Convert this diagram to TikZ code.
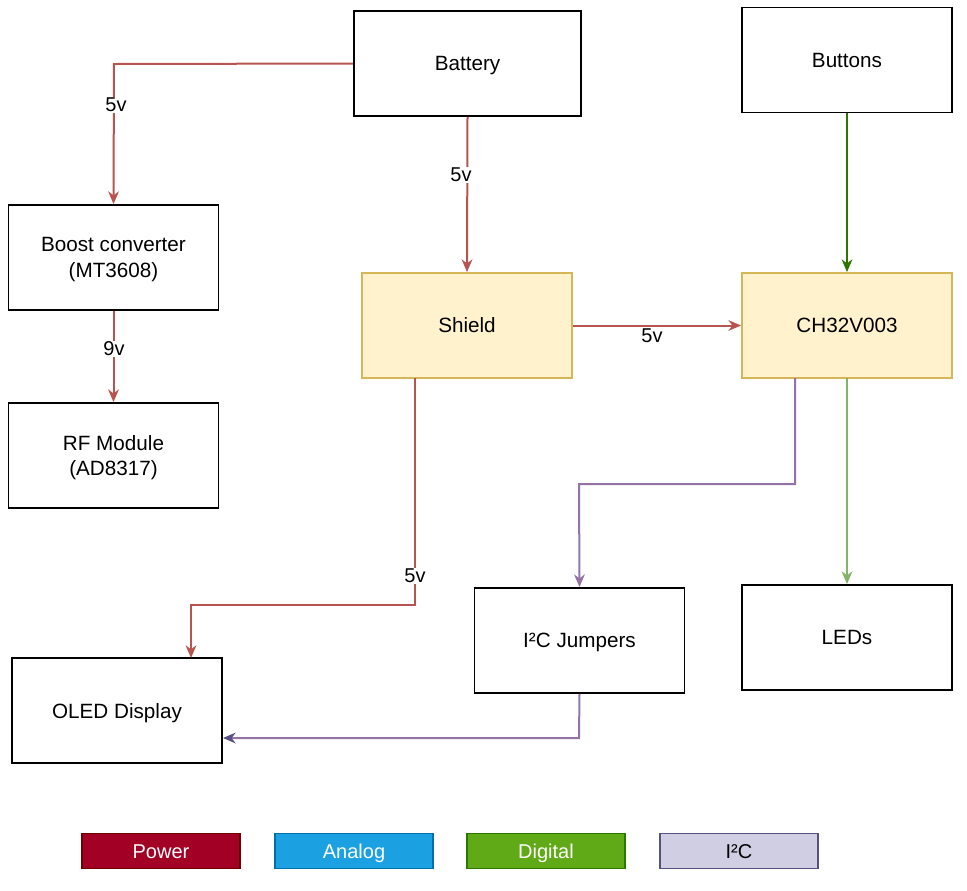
\documentclass[tikz,border=0pt]{standalone}
\usepackage{fontspec}
\setmainfont{Liberation Sans}
\usetikzlibrary{arrows.meta}
\definecolor{pw}{HTML}{B85450}
\definecolor{dg}{HTML}{2D7600}
\definecolor{lg}{HTML}{82B366}
\definecolor{pu}{HTML}{9673A6}
\definecolor{dpu}{HTML}{56517E}
\definecolor{yf}{HTML}{FFF2CC}
\definecolor{ys}{HTML}{D6B656}
\definecolor{powf}{HTML}{A20025}
\definecolor{pows}{HTML}{6F0000}
\definecolor{anf}{HTML}{1BA1E2}
\definecolor{ans}{HTML}{006EAF}
\definecolor{dif}{HTML}{60A917}
\definecolor{dis}{HTML}{2D7600}
\definecolor{i2f}{HTML}{D0CEE2}
\definecolor{i2s}{HTML}{56517E}
\tikzset{
  blk/.style={draw=black, line width=1.4pt, fill=white, minimum width=157.5pt, minimum height=78.75pt, inner sep=0pt, align=center, text depth=0pt, font=\fontsize{15.5}{19}\selectfont},
  yblk/.style={blk, draw=ys, fill=yf},
  leg/.style={line width=1.4pt, minimum width=118.5pt, minimum height=26.25pt, inner sep=0pt, text height=11pt, text depth=0pt, font=\fontsize{15}{17}\selectfont},
  conn/.style={line width=1.5pt, -{Stealth[length=9.5pt, width=8pt, inset=3pt]}},
  lbl/.style={fill=white, inner sep=1pt, font=\fontsize{15}{17}\selectfont}
}
\begin{document}
\begin{tikzpicture}[x=0.75pt, y=-0.75pt]
\useasboundingbox (0,0) rectangle (967,890);
\node[blk, minimum width=170.25pt] (bat) at (467.5,63.5) {Battery};
\node[blk] (btn) at (847,60) {Buttons};
\node[blk] (boost) at (113.5,257.5) {Boost converter\\(MT3608)};
\node[yblk] (sh) at (467,325.5) {Shield};
\node[yblk] (ch) at (847,325.5) {CH32V003};
\node[blk] (rf) at (113.5,455.5) {RF Module\\(AD8317)};
\node[blk] (i2c) at (579.5,640.5) {I²C Jumpers};
\node[blk] (led) at (847,637.5) {LEDs};
\node[blk] (oled) at (117,710.5) {OLED Display};

\coordinate (c1) at (114,64);
\draw[conn, pw] (bat.west) -- (c1) -- (boost.north);
\node[lbl] (l1) at (116,105) {5v};
\draw[conn, pw] (bat.south) -- (sh.north);
\node[lbl] (l2) at (461,175) {5v};
\draw[conn, dg] (btn.south) -- (ch.north);
\draw[conn, pw] (sh.east) -- (ch.west);
\node[lbl] (l3) at (652,336) {5v};
\draw[conn, pw] (boost.south) -- (rf.north);
\node[lbl] (l4) at (114,349) {9v};
\coordinate (s1) at (415,378);
\coordinate (s2) at (415,605);
\coordinate (s3) at (191,605);
\coordinate (s4) at (191,658);
\draw[conn, pw] (s1) -- (s2) -- (s3) -- (s4);
\node[lbl] (l5) at (415,576) {5v};
\coordinate (p1) at (795,378);
\coordinate (p2) at (795,484);
\coordinate (p3) at (579,484);
\draw[conn, pu] (p1) -- (p2) -- (p3) -- (i2c.north);
\coordinate (g1) at (847,378);
\draw[conn, lg] (g1) -- (led.north);
\coordinate (q1) at (579,738);
\draw[line width=1.5pt, pu, -{Stealth[length=9.5pt, width=8pt, inset=3pt, color=dpu, fill=dpu]}] (i2c.south) -- (q1) -- (oled.east |- q1);

\node[leg, draw=pows, fill=powf, text=white] (lp) at (161,851) {Power};
\node[leg, draw=ans, fill=anf, text=white] (la) at (354,851) {Analog};
\node[leg, draw=dis, fill=dif, text=white] (ld) at (546,851) {Digital};
\node[leg, draw=i2s, fill=i2f, text=black] (li) at (739,851) {I²C};
\end{tikzpicture}
\end{document}
